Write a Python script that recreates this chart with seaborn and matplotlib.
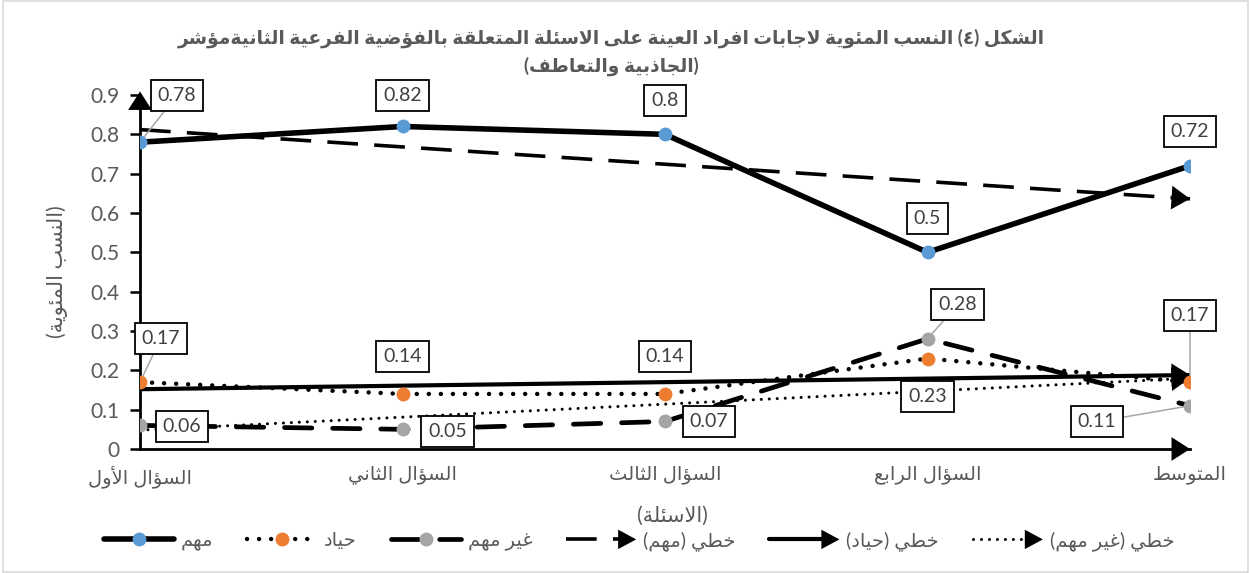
import numpy as np
import pandas as pd
import matplotlib
matplotlib.use("Agg")
import matplotlib.pyplot as plt
import seaborn as sns
from matplotlib.lines import Line2D
from matplotlib.patches import Polygon, Rectangle
from matplotlib.legend_handler import HandlerBase

# ---------------- data ----------------
questions = ["السؤال الأول", "السؤال الثاني", "السؤال الثالث", "السؤال الرابع", "المتوسط"]
important = [0.78, 0.82, 0.80, 0.50, 0.72]       # مهم
neutral = [0.17, 0.14, 0.14, 0.23, 0.17]         # حياد
unimportant = [0.06, 0.05, 0.07, 0.28, 0.11]     # غير مهم
series_names = ["مهم", "حياد", "غير مهم"]
trend_names = ["خطي (مهم)", "خطي (حياد)", "خطي (غير مهم)"]
y_ticks = [0, 0.1, 0.2, 0.3, 0.4, 0.5, 0.6, 0.7, 0.8, 0.9]
title_lines = ["الشكل (٤) النسب المئوية لاجابات افراد العينة على الاسئلة المتعلقة بالفؤضية الفرعية الثانيةمؤشر",
               "(الجاذبية والتعاطف)"]
x_title = "(الاسئلة)"
y_title = "(النسب المئوية)"

# ---------------- Arabic shaping (contextual forms + right-to-left order) ----------------
FORMS = {
    'ء': (0xFE80, 1), 'آ': (0xFE81, 2), 'أ': (0xFE83, 2), 'ؤ': (0xFE85, 2), 'إ': (0xFE87, 2),
    'ئ': (0xFE89, 4), 'ا': (0xFE8D, 2), 'ب': (0xFE8F, 4), 'ة': (0xFE93, 2), 'ت': (0xFE95, 4),
    'ث': (0xFE99, 4), 'ج': (0xFE9D, 4), 'ح': (0xFEA1, 4), 'خ': (0xFEA5, 4), 'د': (0xFEA9, 2),
    'ذ': (0xFEAB, 2), 'ر': (0xFEAD, 2), 'ز': (0xFEAF, 2), 'س': (0xFEB1, 4), 'ش': (0xFEB5, 4),
    'ص': (0xFEB9, 4), 'ض': (0xFEBD, 4), 'ط': (0xFEC1, 4), 'ظ': (0xFEC5, 4), 'ع': (0xFEC9, 4),
    'غ': (0xFECD, 4), 'ف': (0xFED1, 4), 'ق': (0xFED5, 4), 'ك': (0xFED9, 4), 'ل': (0xFEDD, 4),
    'م': (0xFEE1, 4), 'ن': (0xFEE5, 4), 'ه': (0xFEE9, 4), 'و': (0xFEED, 2), 'ى': (0xFEEF, 2),
    'ي': (0xFEF1, 4),
}
LAM_ALEF = {'آ': 0xFEF5, 'أ': 0xFEF7, 'إ': 0xFEF9, 'ا': 0xFEFB}


def _joins_left(c):
    return c in FORMS and FORMS[c][1] == 4


def ar(text):
    out, prev, i, n = [], None, 0, len(text)
    while i < n:
        c = text[i]
        if c not in FORMS:
            out.append(c)
            prev = None
            i += 1
            continue
        prev_link = prev is not None and _joins_left(prev)
        if c == 'ل' and i + 1 < n and text[i + 1] in LAM_ALEF:
            out.append(chr(LAM_ALEF[text[i + 1]] + (1 if prev_link else 0)))
            prev = 'ا'
            i += 2
            continue
        nxt = text[i + 1] if i + 1 < n else None
        next_link = _joins_left(c) and nxt in FORMS
        base, nforms = FORMS[c]
        if nforms == 1:
            code = base
        elif prev_link and next_link:
            code = base + 3
        elif prev_link:
            code = base + 1
        elif next_link:
            code = base + 2
        else:
            code = base
        out.append(chr(code))
        prev = c
        i += 1
    visual = ''.join(reversed(out))
    return visual.translate(str.maketrans('()', ')('))


# ---------------- style ----------------
sns.set_theme(style="white")
plt.rcParams['font.family'] = ['Lato', 'DejaVu Sans']
TXT = "#595959"
LBL = "#404040"
BLUE, ORANGE, GREY = "#5B9BD5", "#ED7D31", "#A5A5A5"

W, H = 1251, 573
fig = plt.figure(figsize=(W / 100, H / 100), dpi=100)
fig.patches.append(Rectangle((0.002, 0.002), 0.996, 0.996, transform=fig.transFigure,
                             fill=False, ec="#D9D9D9", lw=1.2))
ax = fig.add_axes([140 / W, 1 - 449 / H, (1190 - 140) / W, (449 - 95) / H])

x = np.arange(len(questions))
df = pd.DataFrame({"x": x, "important": important, "neutral": neutral, "unimportant": unimportant})

# ---------------- linear trend lines ----------------
trend_styles = [
    dict(linestyle=(0, (8.5, 4.5)), lw=2.6, dash_capstyle="butt"),
    dict(linestyle="-", lw=3.0),
    dict(linestyle=(0, (0.01, 2.6)), lw=2.2, dash_capstyle="round"),
]
for col, st in zip(["important", "neutral", "unimportant"], trend_styles):
    sns.regplot(data=df, x="x", y=col, ax=ax, ci=None, scatter=False, truncate=True,
                color="black", line_kws=dict(zorder=2, **st))
    ln = ax.lines[-1]
    xs, ys = ln.get_xdata(), ln.get_ydata()
    ax.annotate("", xy=(xs[-1], ys[-1]),
                xytext=(xs[-2] + 0.97 * (xs[-1] - xs[-2]), ys[-2] + 0.97 * (ys[-1] - ys[-2])),
                arrowprops=dict(arrowstyle="-|>,head_length=0.7,head_width=0.45", color="black", lw=0,
                                mutation_scale=19, shrinkA=0, shrinkB=0), zorder=2)

# ---------------- data series ----------------
series_styles = [
    dict(color="black", linestyle="-", lw=4.0, mfc=BLUE, solid_capstyle="round"),
    dict(color="black", linestyle=(0, (0.01, 2.7)), lw=3.2, mfc=ORANGE, dash_capstyle="round"),
    dict(color="black", linestyle=(0, (5.8, 4.4)), lw=3.4, mfc=GREY, dash_capstyle="round"),
]
for col, st in zip(["important", "neutral", "unimportant"], series_styles):
    sns.lineplot(data=df, x="x", y=col, ax=ax, marker="o", markersize=10, markeredgewidth=0,
                 zorder=3, sort=False, **st)

# ---------------- data labels ----------------
label_offsets = {
    "important": [(37, 47, True), (0, 31, False), (0, 34, False), (0, 34, False), (0, 34, False)],
    "neutral": [(21, 44, True), (0, 37, False), (0, 37, False), (0, -38, False), (0, 67, True)],
    "unimportant": [(42, -1, False), (45, -2, False), (44, 0, False), (30, 34, True), (-93, -16, True)],
}
for col, vals in [("important", important), ("neutral", neutral), ("unimportant", unimportant)]:
    for xi, v, (dx, dy, leader) in zip(x, vals, label_offsets[col]):
        ap = dict(arrowstyle="-", color="#A6A6A6", lw=1.1, shrinkA=0, shrinkB=5) if leader else None
        ax.annotate(f"{v:g}", xy=(xi, v), xytext=(dx, dy), textcoords="offset pixels",
                    ha="center", va="center", fontsize=14, color=LBL, zorder=5,
                    bbox=dict(boxstyle="square,pad=0.36", fc="white", ec="black", lw=1.3),
                    arrowprops=ap)

# ---------------- axes ----------------
ax.set_xlim(0, 4)
ax.set_ylim(0, 0.9)
ax.set_yticks(y_ticks)
ax.set_yticklabels([f"{t:g}" for t in y_ticks])
ax.set_xticks(x)
ax.set_xticklabels([ar(q) for q in questions])
ax.tick_params(axis="y", length=7, width=1.8, color="black", labelsize=15, labelcolor=TXT, pad=8, left=True)
ax.tick_params(axis="x", length=0, labelsize=14, labelcolor=TXT, pad=12)
for s in ["top", "right"]:
    ax.spines[s].set_visible(False)
for s in ["left", "bottom"]:
    ax.spines[s].set_color("black")
    ax.spines[s].set_linewidth(2.0)
ax.set_xlabel("")
ax.set_ylabel(ar(y_title), fontsize=15, color=TXT, labelpad=16)
ax.annotate("", xy=(0, 1.01), xytext=(0, 0.96), xycoords="axes fraction",
            arrowprops=dict(arrowstyle="-|>,head_length=0.7,head_width=0.45", color="black", lw=0,
                            mutation_scale=19, shrinkA=0, shrinkB=0), annotation_clip=False)
ax.annotate("", xy=(1.0, 0), xytext=(0.985, 0), xycoords="axes fraction",
            arrowprops=dict(arrowstyle="-|>,head_length=0.7,head_width=0.45", color="black", lw=0,
                            mutation_scale=19, shrinkA=0, shrinkB=0), annotation_clip=False)

fig.text(672 / W, 1 - 516 / H, ar(x_title), ha="center", va="center", fontsize=15, color=TXT)
fig.text(611 / W, 1 - 38 / H, ar(title_lines[0]), ha="center", va="center", fontsize=13.4,
         fontweight="bold", color=TXT)
fig.text(611 / W, 1 - 66 / H, ar(title_lines[1]), ha="center", va="center", fontsize=13.4,
         fontweight="bold", color=TXT)


# ---------------- legend ----------------
class ArrowLineHandler(HandlerBase):
    def create_artists(self, legend, orig_handle, xdescent, ydescent, width, height, fontsize, trans):
        y = height / 2 - ydescent
        x0, x1 = -xdescent, width - xdescent
        ln = Line2D([x0, x1 - 10], [y, y])
        ln.update_from(orig_handle)
        ln.set_transform(trans)
        head = Polygon([[x1 - 13, y - 7], [x1, y], [x1 - 13, y + 7]], closed=True, fc="black", ec="none",
                       transform=trans)
        return [ln, head]


handles = [Line2D([], [], color="black", linestyle=st["linestyle"], lw=st["lw"], marker="o", markersize=10,
                  markerfacecolor=st["mfc"], markeredgewidth=0,
                  dash_capstyle="round", solid_capstyle="round") for st in series_styles]
t_handles = [Line2D([], [], color="black", linestyle=st["linestyle"], lw=st["lw"],
                    dash_capstyle=st.get("dash_capstyle", "butt")) for st in trend_styles]
handler_map = {h: ArrowLineHandler() for h in t_handles}
leg = fig.legend(handles + t_handles, [ar(n) for n in series_names + trend_names],
                 loc="center", bbox_to_anchor=(639 / W, 1 - 541 / H), ncol=6, frameon=False,
                 fontsize=14, handlelength=3.6, handletextpad=0.35, columnspacing=1.75,
                 handler_map=handler_map, numpoints=1)
for t in leg.get_texts():
    t.set_color(TXT)

fig.savefig("out.png", dpi=100)
